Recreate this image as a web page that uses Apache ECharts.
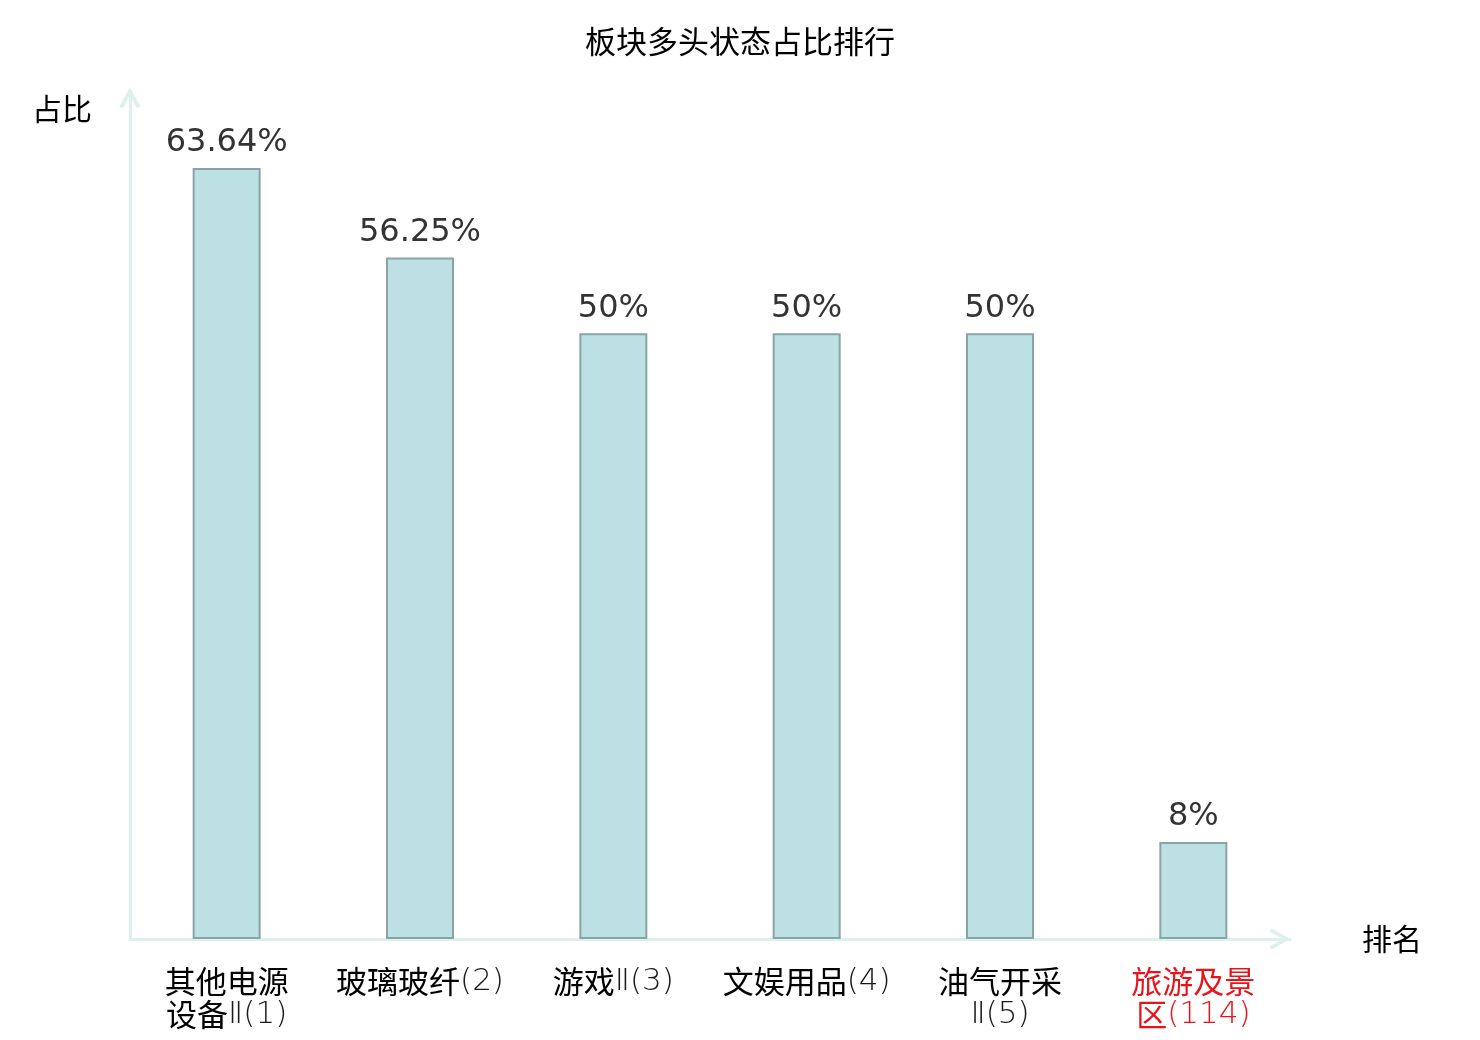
<!DOCTYPE html>
<html>
<head>
<meta charset="utf-8">
<script src="https://cdn.jsdelivr.net/npm/echarts@6/dist/echarts.min.js"></script>
<style>
html,body{margin:0;padding:0;background:#fff;}
#main{width:1480px;height:1040px;}
</style>
</head>
<body>
<div id="main"></div>
<script>
const titleText = '板块多头状态占比排行';
const categories = ['其他电源\n设备Ⅱ(1)', '玻璃玻纤(2)', '游戏Ⅱ(3)', '文娱用品(4)', '油气开采\nⅡ(5)', '旅游及景\n区(114)'];
const highlightIndex = 5;
const values = [63.64, 56.25, 50, 50, 50, 8];
const yAxisName = '占比';
const xAxisName = '排名';

const axisColor = '#dcf0ee';
const chevron = 'path://M0,18 L10,0 L20,18 L16.8,20 L10,7 L3.2,20 Z';

// split a label into CJK runs and latin runs for rich text
function richLabel(text, idx) {
  const red = idx === highlightIndex;
  return text.split('\n').map(line => {
    const parts = line.match(/[\u4e00-\u9fff]+|[^\u4e00-\u9fff]+/g) || [];
    return parts.map(p => {
      const isCjk = /[\u4e00-\u9fff]/.test(p);
      const key = (isCjk ? 'c' : 'l') + (red ? 'r' : '');
      return '{' + key + '|' + p + '}';
    }).join('');
  }).join('\n');
}

const chart = echarts.init(document.getElementById('main'));
chart.setOption({
  animation: false,
  backgroundColor: '#fff',
  title: {
    text: titleText,
    left: 'center',
    top: 21,
    textStyle: {fontFamily: 'Noto Sans CJK SC', fontSize: 31, fontWeight: 'normal', color: '#000'}
  },
  grid: {left: 130, right: 190, top: 91, bottom: 101},
  xAxis: {
    type: 'category',
    data: categories,
    name: xAxisName,
    nameLocation: 'end',
    nameGap: 72,
    nameTextStyle: {fontFamily: 'Noto Sans CJK SC', fontSize: 30, color: '#000', padding: [4, 0, 0, 0]},
    axisLine: {
      show: true,
      lineStyle: {color: axisColor, width: 3},
      symbol: ['none', chevron],
      symbolSize: [23, 21],
      symbolOffset: [0, -10]
    },
    axisTick: {show: false},
    axisLabel: {
      interval: 0,
      margin: 26,
      lineHeight: 33,
      formatter: (v, i) => richLabel(v, i),
      rich: {
        c: {fontFamily: 'Noto Sans CJK SC', fontSize: 31, lineHeight: 33, color: '#000'},
        l: {fontFamily: 'DejaVu Sans', fontWeight: 200, fontSize: 31, lineHeight: 33, color: '#1a1a1a'},
        cr: {fontFamily: 'Noto Sans CJK SC', fontSize: 31, lineHeight: 33, color: '#e8141a'},
        lr: {fontFamily: 'DejaVu Sans', fontWeight: 200, fontSize: 31, lineHeight: 33, color: '#e8141a'}
      }
    },
    splitLine: {show: false}
  },
  yAxis: {
    type: 'value',
    min: 0,
    max: 70,
    name: yAxisName,
    nameLocation: 'end',
    nameGap: -35,
    nameTextStyle: {fontFamily: 'Noto Sans CJK SC', fontSize: 30, color: '#000', align: 'right', padding: [0, 38, 2, 0]},
    axisLine: {
      show: true,
      lineStyle: {color: axisColor, width: 3},
      symbol: ['none', chevron],
      symbolSize: [23, 21],
      symbolOffset: [0, -7]
    },
    axisTick: {show: false},
    axisLabel: {show: false},
    splitLine: {show: false}
  },
  series: [{
    type: 'bar',
    data: values,
    barWidth: 68,
    itemStyle: {color: '#bce0e3', borderColor: '#8aa4a6', borderWidth: 2},
    label: {
      show: true,
      position: 'top',
      distance: 9,
      formatter: p => p.value + '%',
      fontFamily: 'DejaVu Sans',
      fontSize: 32,
      color: '#333'
    }
  }]
});
</script>
</body>
</html>
